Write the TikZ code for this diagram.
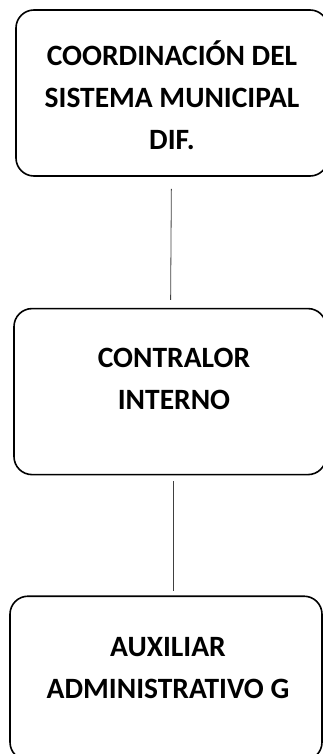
\documentclass[tikz,border=0pt]{standalone}
\usepackage{fontspec}
\setmainfont{Carlito}
\usepackage{tikz}
\usetikzlibrary{positioning}

\begin{document}
\begin{tikzpicture}[
    box/.style={rectangle, draw=black, line width=1.6pt, rounded corners=18pt, minimum width=312pt, minimum height=166pt, inner sep=0pt},
    title/.style={align=center, font=\fontsize{29.5}{42}\selectfont\bfseries, inner sep=0pt},
    link/.style={draw=black!75, line width=0.8pt}
]
\useasboundingbox (0,0) rectangle (323pt,-754pt);

% Boxes
\node (coordinacion) [box] at (172pt,-93pt) {};
\node (contralor) [box, below=131pt of coordinacion, xshift=-2pt] {};
\node (auxiliar) [box, minimum height=164pt, below=120pt of contralor, xshift=-4pt] {};

% Texts
\node (coordinaciontext) [title] at ([yshift=-2pt]coordinacion.center) {COORDINACIÓN DEL\\SISTEMA MUNICIPAL\\DIF.};
\node (contralortext) [title] at ([xshift=4pt, yshift=13pt]contralor.center) {CONTRALOR\\INTERNO};
\node (auxiliartext) [title] at ([xshift=2pt, yshift=10pt]auxiliar.center) {AUXILIAR\\ADMINISTRATIVO G};

% Connections
\draw[link, shorten <=12pt, shorten >=8pt] (coordinacion) -- (contralor);
\draw[link, shorten <=6pt, shorten >=4pt] ([xshift=3pt]contralor.south) -- ([xshift=7pt]auxiliar.north);

\end{tikzpicture}
\end{document}
